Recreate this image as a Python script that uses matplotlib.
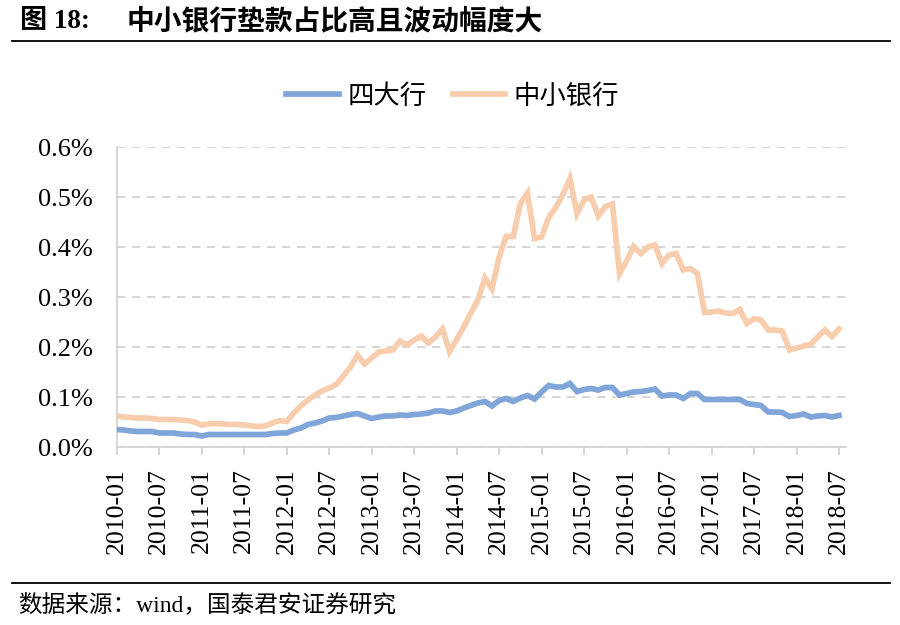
import matplotlib
matplotlib.use("Agg")

import numpy as np
import matplotlib.pyplot as plt
from matplotlib.lines import Line2D

plt.rcParams['font.family'] = ['Liberation Serif', 'Noto Sans CJK SC', 'DejaVu Sans']

# 月度数据 2010-01 ~ 2018-07, 单位 %
months = [f"{y}-{m:02d}" for y in range(2010, 2019) for m in range(1, 13)][:103]

big_four = [
    0.035, 0.034, 0.032, 0.031, 0.031, 0.031, 0.028, 0.028, 0.028, 0.026, 0.025, 0.025,
    0.022, 0.025, 0.025, 0.025, 0.025, 0.025, 0.025, 0.025, 0.025, 0.025, 0.027, 0.028,
    0.028, 0.034, 0.038, 0.045, 0.048, 0.052, 0.058, 0.059, 0.062, 0.065, 0.067, 0.062,
    0.057, 0.060, 0.062, 0.062, 0.064, 0.063, 0.065, 0.066, 0.068, 0.072, 0.072, 0.069,
    0.072, 0.078, 0.083, 0.088, 0.091, 0.082, 0.093, 0.097, 0.091, 0.098, 0.103, 0.096,
    0.110, 0.123, 0.120, 0.120, 0.127, 0.111, 0.115, 0.117, 0.114, 0.119, 0.119, 0.104,
    0.107, 0.110, 0.111, 0.113, 0.116, 0.102, 0.104, 0.104, 0.097, 0.107, 0.107, 0.095,
    0.095, 0.095, 0.095, 0.095, 0.095, 0.087, 0.085, 0.083, 0.070, 0.070, 0.069, 0.061,
    0.063, 0.066, 0.060, 0.062, 0.063, 0.060, 0.063,
]

small_mid = [
    0.062, 0.060, 0.059, 0.058, 0.058, 0.057, 0.055, 0.055, 0.055, 0.054, 0.053, 0.050,
    0.044, 0.046, 0.047, 0.046, 0.045, 0.045, 0.044, 0.042, 0.041, 0.042, 0.048, 0.053,
    0.051, 0.068, 0.082, 0.094, 0.104, 0.112, 0.118, 0.125, 0.142, 0.160, 0.184, 0.166,
    0.178, 0.190, 0.192, 0.194, 0.212, 0.204, 0.214, 0.222, 0.208, 0.220, 0.236, 0.191,
    0.215, 0.240, 0.268, 0.294, 0.338, 0.316, 0.380, 0.421, 0.421, 0.487, 0.508, 0.417,
    0.420, 0.459, 0.479, 0.505, 0.537, 0.467, 0.494, 0.500, 0.462, 0.481, 0.486, 0.347,
    0.372, 0.401, 0.387, 0.400, 0.404, 0.367, 0.384, 0.387, 0.354, 0.357, 0.347, 0.269,
    0.270, 0.272, 0.268, 0.267, 0.275, 0.247, 0.257, 0.254, 0.234, 0.234, 0.232, 0.194,
    0.198, 0.202, 0.205, 0.220, 0.234, 0.221, 0.236,
]

yticks = [0.0, 0.1, 0.2, 0.3, 0.4, 0.5, 0.6]

fig = plt.figure(figsize=(9, 6.25), dpi=100)
ax = fig.add_axes([0.1297, 0.2848, 0.8104, 0.48])

x = np.arange(len(months))
ax.plot(x, big_four, color='#80A5D9', lw=4.1, solid_joinstyle='miter', label='四大行', zorder=3)
ax.plot(x, small_mid, color='#F8CDAE', lw=4.1, solid_joinstyle='miter', label='中小银行', zorder=3)

ax.set_xlim(0, 103)
ax.set_ylim(0, 0.6)
ax.set_yticks(yticks)
ax.set_yticklabels([f"{v:.1f}%" for v in yticks], fontsize=19, family='Liberation Serif')
ax.set_xticks(x[::6])
ax.set_xticklabels(months[::6], rotation=90, fontsize=18.5, family='Liberation Serif')
ax.tick_params(axis='y', length=0, pad=17)
ax.tick_params(axis='x', length=6, color='#d0d0d0', width=1.2, pad=9)

ax.grid(axis='y', ls=(0, (5, 4)), color='#d0d0d0', lw=1.2)
ax.set_axisbelow(True)
for s in ['top', 'right']:
    ax.spines[s].set_visible(False)
for s in ['left', 'bottom']:
    ax.spines[s].set_color('#d0d0d0')
    ax.spines[s].set_linewidth(1.2)

leg = fig.legend(loc='center', bbox_to_anchor=(0.503, 1 - 96 / 625), ncol=2, frameon=False,
                 prop={'family': ['Noto Sans CJK SC'], 'size': 19}, handlelength=2.0,
                 handletextpad=0.3, columnspacing=1.0)

# 标题与来源
fig.text(0.022, 1 - 21 / 625, '图 18:', fontsize=19.5, weight='bold', va='center',
         family=['Liberation Serif', 'Noto Sans CJK SC'])
fig.text(0.141, 1 - 21 / 625, '中小银行垫款占比高且波动幅度大', fontsize=20, weight='bold',
         va='center', family=['Noto Sans CJK SC'])
fig.add_artist(Line2D([12 / 900, 890 / 900], [1 - 41 / 625, 1 - 41 / 625], color='black', lw=1.3))
fig.add_artist(Line2D([12 / 900, 890 / 900], [1 - 583 / 625, 1 - 583 / 625], color='black', lw=1.3))
fig.text(0.02, 1 - 605 / 625, '数据来源：wind，国泰君安证券研究', fontsize=17, va='center',
         family=['Liberation Serif', 'Noto Sans CJK SC'])

fig.savefig('out.png', dpi=100)
